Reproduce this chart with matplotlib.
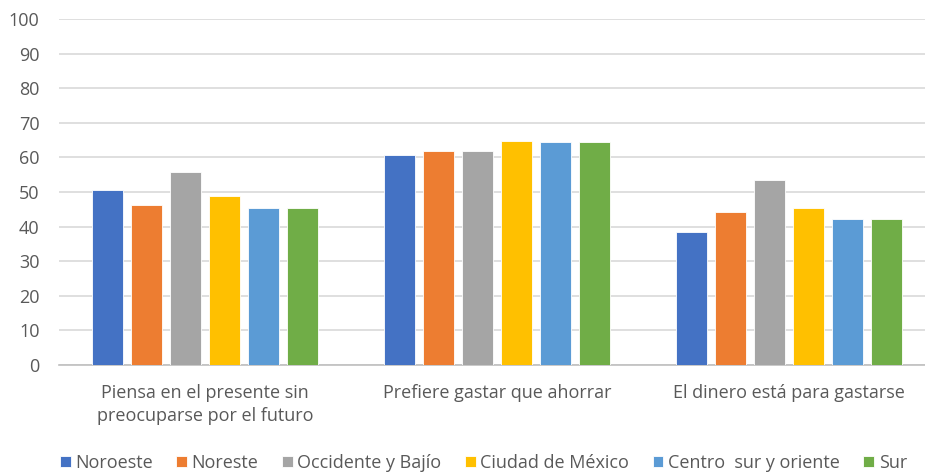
import matplotlib
matplotlib.use("Agg")
import matplotlib.pyplot as plt
import numpy as np

plt.rcParams['font.family'] = ['Open Sans', 'DejaVu Sans']

categorias = ["Piensa en el presente sin\npreocuparse por el futuro",
              "Prefiere gastar que ahorrar",
              "El dinero está para gastarse"]
regiones = ["Noroeste", "Noreste", "Occidente y Bajío", "Ciudad de México",
            "Centro  sur y oriente", "Sur"]
colores = ["#4472C4", "#ED7D31", "#A5A5A5", "#FFC000", "#5B9BD5", "#70AD47"]

noroeste = [50.6, 60.7, 38.3]
noreste = [46.3, 61.9, 44.1]
occidente = [55.7, 61.9, 53.5]
cdmx = [48.9, 64.8, 45.3]
centro = [45.4, 64.5, 42.1]
sur = [45.4, 64.5, 42.1]
series = [noroeste, noreste, occidente, cdmx, centro, sur]

fig = plt.figure(figsize=(9.25, 4.74), dpi=100)
ax = fig.add_axes([59/925, 0.230, 866/925, 0.730])

x = np.arange(len(categorias))
paso = 0.1336
ancho = 0.106
for i, (vals, reg, col) in enumerate(zip(series, regiones, colores)):
    ax.bar(x + (i - 2.5) * paso, vals, ancho, color=col, label=reg,
           edgecolor="white", linewidth=0.6, zorder=3)

ax.set_ylim(0, 100)
ax.set_xlim(-0.5, 2.466)
ax.set_yticks(np.arange(0, 101, 10))
ax.grid(axis="y", color="#D9D9D9", linewidth=1.2, zorder=0)
for s in ["top", "right", "left"]:
    ax.spines[s].set_visible(False)
ax.spines["bottom"].set_color("#BFBFBF")
ax.spines["bottom"].set_linewidth(1.2)
ax.tick_params(axis="both", length=0, labelsize=13, colors="#595959")
ax.tick_params(axis="y", pad=14)
ax.set_xticks(x)
ax.set_xticklabels(categorias, linespacing=1.35)
ax.tick_params(axis="x", pad=14)

ax.legend(loc="center", bbox_to_anchor=(0.49, -0.283), ncol=6, frameon=False,
          fontsize=13, labelcolor="#595959", handlelength=0.6, handleheight=0.6,
          handletextpad=0.25, columnspacing=1.3, borderaxespad=0)

fig.savefig("out.png", dpi=100)
